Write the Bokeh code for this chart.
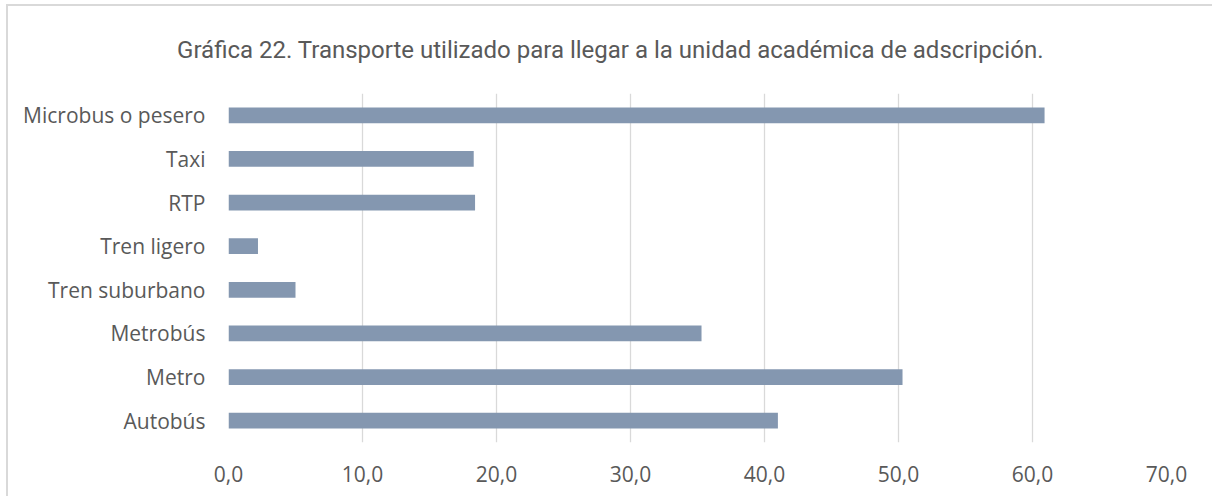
from bokeh.plotting import figure
from bokeh.layouts import column
from bokeh.models import FactorRange, Range1d, FixedTicker
from bokeh.core.properties import value
from bokeh.embed import file_html
from bokeh.resources import INLINE

categories = ["Autobús", "Metro", "Metrobús", "Tren suburbano", "Tren ligero", "RTP", "Taxi", "Microbus o pesero"]
values = [41.0, 50.3, 35.3, 5.0, 2.2, 18.4, 18.3, 60.9]
tick_values = [0, 10, 20, 30, 40, 50, 60, 70]
tick_labels = ["0,0", "10,0", "20,0", "30,0", "40,0", "50,0", "60,0", "70,0"]
title_text = "Gráfica 22. Transporte utilizado para llegar a la unidad académica de adscripción."

TEXT = "#595959"
GRID = "#D9D9D9"
BAR = "#8497B0"

W = 1204
TH = 60

# title strip (its own small figure; text anchored to the strip's bottom edge)
tf = figure(width=W, height=TH, output_backend="svg", toolbar_location=None,
            x_range=Range1d(0, W), y_range=Range1d(0, 1),
            x_axis_type=None, y_axis_type=None,
            min_border_left=0, min_border_right=0, min_border_top=0, min_border_bottom=0)
tf.frame_align = False
tf.outline_line_color = None
tf.xgrid.grid_line_color = None
tf.ygrid.grid_line_color = None
tf.text(x=[W / 2], y=[0], text=[title_text], y_offset=-17, text_align="center",
        text_baseline="alphabetic", text_font=value("Roboto"),
        text_font_size="24px", text_color=TEXT)

p = figure(width=W, height=430, output_backend="svg", toolbar_location=None,
           y_range=FactorRange(factors=categories, range_padding=0.0),
           x_range=Range1d(0, 70),
           min_border_left=220, min_border_right=46, min_border_top=27, min_border_bottom=54)
p.frame_align = False

p.hbar(y=categories, right=values, left=0, height=0.36, fill_color=BAR, line_color=None)

p.outline_line_color = None
p.background_fill_color = "white"
p.border_fill_color = "white"

p.xgrid.grid_line_color = GRID
p.xgrid.grid_line_width = 1.3
p.xgrid.ticker = FixedTicker(ticks=tick_values)
p.ygrid.grid_line_color = None

xa = p.xaxis[0]
xa.ticker = FixedTicker(ticks=tick_values)
xa.major_label_overrides = {v: l for v, l in zip(tick_values, tick_labels)}
xa.axis_line_color = None
xa.major_tick_line_color = None
xa.minor_tick_line_color = None
xa.major_label_text_font = "Open Sans"
xa.major_label_text_font_size = "21px"
xa.major_label_text_color = TEXT
xa.major_label_standoff = 17

ya = p.yaxis[0]
ya.axis_line_color = None
ya.major_tick_line_color = None
ya.minor_tick_line_color = None
ya.major_label_text_font = "Open Sans"
ya.major_label_text_font_size = "21px"
ya.major_label_text_color = TEXT
ya.major_label_standoff = 17

layout = column(tf, p, spacing=0,
                styles={"border-top": "2px solid #D9D9D9", "border-left": "2px solid #D9D9D9",
                        "margin-left": "6px", "margin-top": "4px"})

open("out.html", "w").write(file_html(layout, INLINE))
